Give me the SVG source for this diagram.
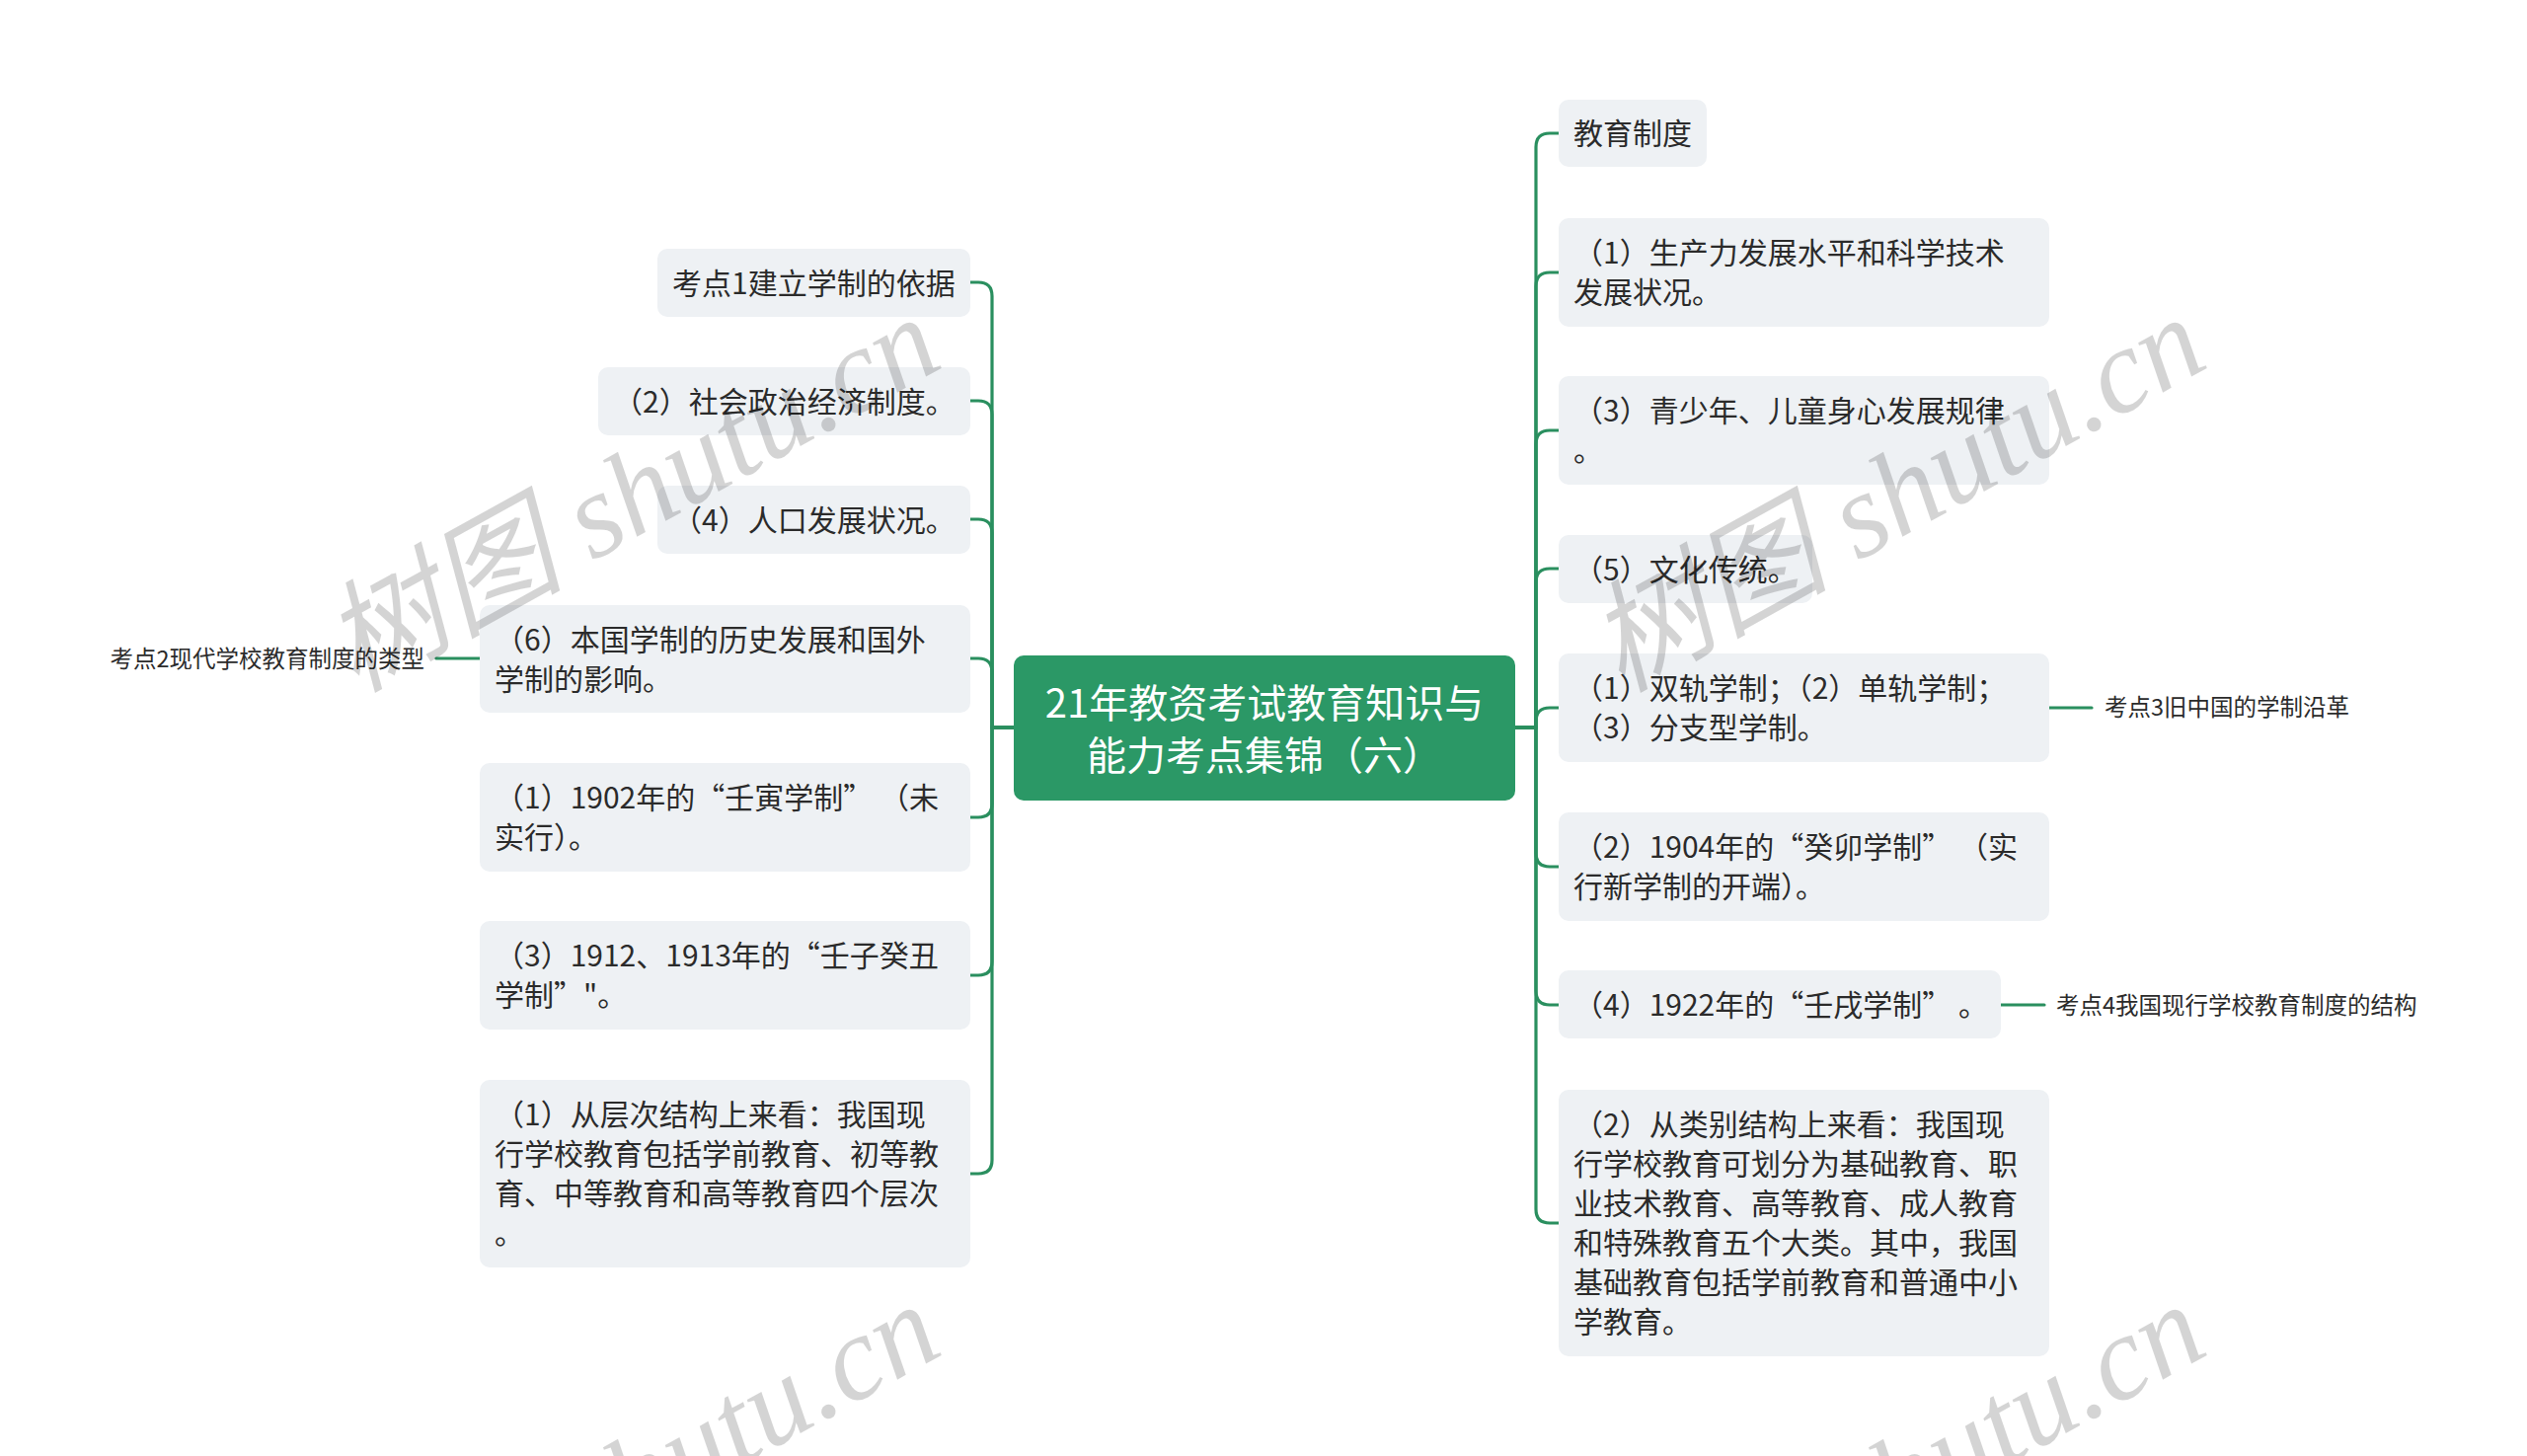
<svg xmlns="http://www.w3.org/2000/svg" width="2560" height="1475" viewBox="0 0 2560 1475">
<style>
.bg{fill:#ffffff}
.node rect{fill:#eef1f4}
.t{font-family:"Noto Sans CJK SC","Noto Sans",sans-serif;font-size:30px;fill:#2b2b2b}
.lbl{font-family:"Noto Sans CJK SC","Noto Sans",sans-serif;font-size:23.5px;fill:#2b2b2b}
.ct{font-family:"Noto Sans CJK SC","Noto Sans",sans-serif;font-size:40px;fill:#ffffff}
.conn path{fill:none;stroke:#2a8f5f;stroke-width:3.2;stroke-linecap:round}
.wm{font-family:"Liberation Serif","Noto Sans CJK SC",serif;font-style:italic;font-size:122px;fill:#000000;fill-opacity:0.17}
</style>
<rect class="bg" x="0" y="0" width="2560" height="1475"/>

<g id="connectors" class="conn">
  <path d="M1535 737 H1556 V149 Q1556 135 1570 135 H1579"/>
  <path d="M1535 737 H1556 V290 Q1556 276 1570 276 H1579"/>
  <path d="M1535 737 H1556 V450 Q1556 436 1570 436 H1579"/>
  <path d="M1535 737 H1556 V590 Q1556 576 1570 576 H1579"/>
  <path d="M1535 737 H1556 V731 Q1556 717 1570 717 H1579"/>
  <path d="M1535 737 H1556 V864 Q1556 878 1570 878 H1579"/>
  <path d="M1535 737 H1556 V1004 Q1556 1018 1570 1018 H1579"/>
  <path d="M1535 737 H1556 V1225 Q1556 1239 1570 1239 H1579"/>
  <path d="M1027 737 H1005 V300 Q1005 286 991 286 H983"/>
  <path d="M1027 737 H1005 V420 Q1005 406 991 406 H983"/>
  <path d="M1027 737 H1005 V540 Q1005 526 991 526 H983"/>
  <path d="M1027 737 H1005 V681 Q1005 667 991 667 H983"/>
  <path d="M1027 737 H1005 V814 Q1005 828 991 828 H983"/>
  <path d="M1027 737 H1005 V974 Q1005 988 991 988 H983"/>
  <path d="M1027 737 H1005 V1175 Q1005 1189 991 1189 H983"/>
  <path d="M2076 717 H2119"/>
  <path d="M2027 1018 H2071"/>
  <path d="M486 667 H442"/>
</g>

<g id="center" class="center">
  <rect x="1027" y="664" width="508" height="147" rx="10" fill="#2b9866"/>
  <text class="ct" x="1281" y="727" text-anchor="middle">21年教资考试教育知识与</text>
  <text class="ct" x="1281" y="780" text-anchor="middle">能力考点集锦（六）</text>
</g>

<g id="r1" class="node"><rect x="1579" y="101" width="150" height="68" rx="10"/>
  <text class="t" x="1594" y="146">教育制度</text></g>
<g id="r2" class="node"><rect x="1579" y="221" width="497" height="110" rx="10"/>
  <text class="t" x="1594" y="267">（1）生产力发展水平和科学技术</text>
  <text class="t" x="1594" y="307">发展状况。</text></g>
<g id="r3" class="node"><rect x="1579" y="381" width="497" height="110" rx="10"/>
  <text class="t" x="1594" y="427">（3）青少年、儿童身心发展规律</text>
  <text class="t" x="1594" y="467">。</text></g>
<g id="r4" class="node"><rect x="1579" y="542" width="257" height="69" rx="10"/>
  <text class="t" x="1594" y="588">（5）文化传统。</text></g>
<g id="r5" class="node"><rect x="1579" y="662" width="497" height="110" rx="10"/>
  <text class="t" x="1594" y="708">（1）双轨学制；（2）单轨学制；</text>
  <text class="t" x="1594" y="748">（3）分支型学制。</text></g>
<g id="r5-label"><text class="lbl" x="2132" y="725">考点3旧中国的学制沿革</text></g>
<g id="r6" class="node"><rect x="1579" y="823" width="497" height="110" rx="10"/>
  <text class="t" x="1594" y="869">（2）1904年的“癸卯学制” （实</text>
  <text class="t" x="1594" y="909">行新学制的开端）。</text></g>
<g id="r7" class="node"><rect x="1579" y="983" width="448" height="69" rx="10"/>
  <text class="t" x="1594" y="1029">（4）1922年的“壬戌学制” 。</text></g>
<g id="r7-label"><text class="lbl" x="2083" y="1027">考点4我国现行学校教育制度的结构</text></g>
<g id="r8" class="node"><rect x="1579" y="1104" width="497" height="270" rx="10"/>
  <text class="t" x="1594" y="1150">（2）从类别结构上来看：我国现</text>
  <text class="t" x="1594" y="1190">行学校教育可划分为基础教育、职</text>
  <text class="t" x="1594" y="1230">业技术教育、高等教育、成人教育</text>
  <text class="t" x="1594" y="1270">和特殊教育五个大类。其中，我国</text>
  <text class="t" x="1594" y="1310">基础教育包括学前教育和普通中小</text>
  <text class="t" x="1594" y="1350">学教育。</text></g>

<g id="l1" class="node"><rect x="666" y="252" width="317" height="69" rx="10"/>
  <text class="t" x="681" y="298">考点1建立学制的依据</text></g>
<g id="l2" class="node"><rect x="606" y="372" width="377" height="69" rx="10"/>
  <text class="t" x="621" y="418">（2）社会政治经济制度。</text></g>
<g id="l3" class="node"><rect x="666" y="492" width="317" height="69" rx="10"/>
  <text class="t" x="681" y="538">（4）人口发展状况。</text></g>
<g id="l4" class="node"><rect x="486" y="613" width="497" height="109" rx="10"/>
  <text class="t" x="501" y="659">（6）本国学制的历史发展和国外</text>
  <text class="t" x="501" y="699">学制的影响。</text></g>
<g id="l4-label"><text class="lbl" x="430" y="676" text-anchor="end">考点2现代学校教育制度的类型</text></g>
<g id="l5" class="node"><rect x="486" y="773" width="497" height="110" rx="10"/>
  <text class="t" x="501" y="819">（1）1902年的“壬寅学制” （未</text>
  <text class="t" x="501" y="859">实行）。</text></g>
<g id="l6" class="node"><rect x="486" y="933" width="497" height="110" rx="10"/>
  <text class="t" x="501" y="979">（3）1912、1913年的“壬子癸丑</text>
  <text class="t" x="501" y="1019">学制”"。</text></g>
<g id="l7" class="node"><rect x="486" y="1094" width="497" height="190" rx="10"/>
  <text class="t" x="501" y="1140">（1）从层次结构上来看：我国现</text>
  <text class="t" x="501" y="1180">行学校教育包括学前教育、初等教</text>
  <text class="t" x="501" y="1220">育、中等教育和高等教育四个层次</text>
  <text class="t" x="501" y="1260">。</text></g>

<g id="watermark">
  <text class="wm" transform="translate(360 702) rotate(-29)">树图 shutu.cn</text>
  <text class="wm" transform="translate(1642 702) rotate(-29)">树图 shutu.cn</text>
  <text class="wm" transform="translate(360 1702) rotate(-29)">树图 shutu.cn</text>
  <text class="wm" transform="translate(1642 1702) rotate(-29)">树图 shutu.cn</text>
</g>
</svg>
